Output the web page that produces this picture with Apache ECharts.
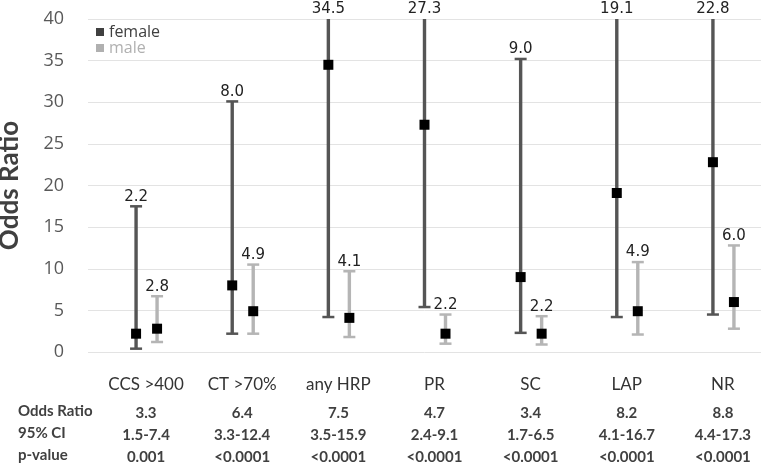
<!DOCTYPE html>
<html>
<head>
<meta charset="utf-8">
<script src="https://cdn.jsdelivr.net/npm/echarts@6/dist/echarts.min.js"></script>
<style>
  html, body { margin: 0; padding: 0; background: #fff; }
  #chart { width: 761px; height: 466px; }
</style>
</head>
<body>
<div id="chart"></div>
<script>
var categories = ['CCS >400', 'CT >70%', 'any HRP', 'PR', 'SC', 'LAP', 'NR'];
var femaleOR   = [2.2, 8.0, 34.5, 27.3, 9.0, 19.1, 22.8];
var femaleLow  = [0.4, 2.2, 4.2, 5.4, 2.3, 4.2, 4.5];
var femaleHigh = [17.5, 30.1, 40, 40, 35.2, 40, 40];
var maleOR     = [2.8, 4.9, 4.1, 2.2, 2.2, 4.9, 6.0];
var maleLow    = [1.2, 2.2, 1.8, 1.0, 0.9, 2.1, 2.8];
var maleHigh   = [6.7, 10.5, 9.7, 4.5, 4.3, 10.8, 12.8];
var tableOR    = ['3.3', '6.4', '7.5', '4.7', '3.4', '8.2', '8.8'];
var tableCI    = ['1.5-7.4', '3.3-12.4', '3.5-15.9', '2.4-9.1', '1.7-6.5', '4.1-16.7', '4.4-17.3'];
var tableP     = ['0.001', '<0.0001', '<0.0001', '<0.0001', '<0.0001', '<0.0001', '<0.0001'];
var rowLabels  = ['Odds Ratio', '95% CI', 'p-value'];
var yTicks     = [0, 40, 5];

var YMAX = yTicks[1];

function buildData(low, mid, high) {
  return categories.map(function (c, i) { return [i, low[i], mid[i], high[i]]; });
}

function makeRender(offset, lineColor) {
  return function (params, api) {
    var x = api.value(0), lo = api.value(1), v = api.value(2), hi = api.value(3);
    var pLo = api.coord([x, lo]);
    var pHi = api.coord([x, Math.min(hi, YMAX)]);
    var pV = api.coord([x, v]);
    var cx = pV[0] + offset;
    var lw = 3.4, cw = 6;
    var children = [
      { type: 'line', shape: { x1: cx, y1: pLo[1], x2: cx, y2: pHi[1] }, style: { stroke: lineColor, lineWidth: lw } },
      { type: 'line', shape: { x1: cx - cw, y1: pLo[1], x2: cx + cw, y2: pLo[1] }, style: { stroke: lineColor, lineWidth: 2.5 } }
    ];
    if (hi < YMAX) {
      children.push({ type: 'line', shape: { x1: cx - cw, y1: pHi[1], x2: cx + cw, y2: pHi[1] }, style: { stroke: lineColor, lineWidth: 2.5 } });
    }
    children.push({ type: 'rect', shape: { x: cx - 5, y: pV[1] - 5, width: 10, height: 10 }, style: { fill: '#000' } });
    children.push({
      type: 'text',
      style: {
        text: v.toFixed(1), x: cx, y: pHi[1] - 2,
        align: 'center', verticalAlign: 'bottom',
        font: '15px "DejaVu Sans"', fill: '#222'
      }
    });
    return { type: 'group', children: children };
  };
}

var chart = echarts.init(document.getElementById('chart'));
chart.setOption({
  animation: false,
  grid: { left: 88, right: 0, top: 19, bottom: 114, containLabel: false, outerBoundsMode: 'none' },
  legend: {
    orient: 'vertical', left: 91, top: 19, itemGap: 0,
    icon: 'rect', itemWidth: 8, itemHeight: 8,
    textStyle: { fontFamily: 'Open Sans', fontSize: 16 },
    data: [
      { name: 'female', textStyle: { color: '#404040' } },
      { name: 'male', textStyle: { color: '#b0b0b0' } }
    ]
  },
  xAxis: {
    type: 'category', data: categories,
    axisLine: { show: false }, axisTick: { show: false },
    axisLabel: {
      interval: 0, margin: 16, hideOverlap: false,
      formatter: function (val, i) {
        return '{c|' + val + '}\n{t|' + tableOR[i] + '}\n{t|' + tableCI[i] + '}\n{t|' + tableP[i] + '}';
      },
      rich: {
        c: { fontFamily: 'Lato', fontSize: 17, color: '#333', lineHeight: 34, padding: [0, 0, 0, 20] },
        t: { fontFamily: 'Lato', fontSize: 15, fontWeight: 'bold', color: '#404040', lineHeight: 22, padding: [0, 0, 0, 20] }
      }
    }
  },
  yAxis: {
    type: 'value', min: yTicks[0], max: yTicks[1], interval: yTicks[2],
    name: 'Odds Ratio', nameLocation: 'middle', nameGap: 65,
    nameTextStyle: { fontFamily: 'Lato', fontSize: 26, fontWeight: 'bold', color: '#404040' },
    axisLine: { show: false }, axisTick: { show: false },
    axisLabel: { fontFamily: 'Open Sans', fontSize: 18, color: '#595959', margin: 24 },
    splitLine: { lineStyle: { color: '#e3e3e3', width: 1 } }
  },
  graphic: rowLabels.map(function (t, i) {
    return {
      type: 'text', left: 18, top: 404 + i * 22,
      style: { text: t, font: 'bold 15px Lato', fill: '#404040' }
    };
  }),
  series: [
    {
      name: 'female', type: 'custom', itemStyle: { color: '#404040' },
      renderItem: makeRender(0, '#555555'),
      encode: { x: 0, y: [1, 2, 3] },
      data: buildData(femaleLow, femaleOR, femaleHigh), z: 2
    },
    {
      name: 'male', type: 'custom', itemStyle: { color: '#b0b0b0' },
      renderItem: makeRender(21, '#b5b5b5'),
      encode: { x: 0, y: [1, 2, 3] },
      data: buildData(maleLow, maleOR, maleHigh), z: 3
    }
  ]
});
</script>
</body>
</html>
